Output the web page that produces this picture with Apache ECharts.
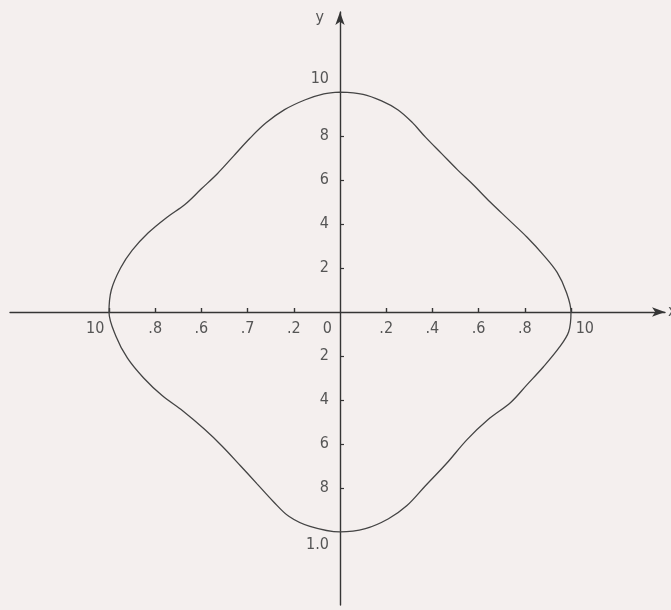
<!DOCTYPE html>
<html>
<head>
<meta charset="utf-8">
<script src="https://cdn.jsdelivr.net/npm/echarts@6/dist/echarts.min.js"></script>
<style>
  html, body { margin: 0; padding: 0; background: #f4efee; }
  #chart { width: 671px; height: 610px; }
</style>
</head>
<body>
<div id="chart"></div>
<script>
// Closed curve, traced clockwise starting at the top (0, 10)
const curveX = [
  0, 0.10, 0.18, 0.25, 0.31, 0.37, 0.44, 0.51, 0.58, 0.65, 0.73, 0.81, 0.88, 0.94, 0.98, 1.0,
  0.99, 0.95, 0.88, 0.81, 0.74, 0.64, 0.55, 0.46, 0.37, 0.29, 0.21, 0.11, 0,
  -0.13, -0.22, -0.29, -0.36, -0.43, -0.51, -0.59, -0.68, -0.77, -0.85, -0.92, -0.97, -1.0,
  -0.99, -0.95, -0.90, -0.83, -0.75, -0.67, -0.60, -0.53, -0.46, -0.39, -0.32, -0.24, -0.15, -0.07, 0
];
const curveY = [
  10.0, 9.9, 9.6, 9.2, 8.65, 7.95, 7.2, 6.45, 5.75, 5.0, 4.2, 3.4, 2.6, 1.8, 0.9, 0,
  -0.9, -1.6, -2.5, -3.3, -4.1, -4.9, -5.8, -6.9, -7.9, -8.8, -9.4, -9.85, -10.0,
  -9.75, -9.3, -8.6, -7.8, -7.0, -6.1, -5.3, -4.5, -3.8, -3.0, -2.1, -1.1, 0,
  1.0, 2.0, 2.8, 3.6, 4.3, 4.9, 5.6, 6.3, 7.1, 7.9, 8.6, 9.2, 9.65, 9.92, 10.0
];

// Axis ticks and their printed labels
const xTicks = [-1.0, -0.8, -0.6, -0.4, -0.2, 0.2, 0.4, 0.6, 0.8, 1.0];
const xLabelValues = [-1.06, -0.8, -0.6, -0.4, -0.2, -0.055, 0.2, 0.4, 0.6, 0.8, 1.06];
const xLabelText = ['10', '.8', '.6', '.7', '.2', '0', '.2', '.4', '.6', '.8', '10'];
const yTicks = [-8, -6, -4, -2, 2, 4, 6, 8];
const yLabelValues = [-10.6, -8, -6, -4, -2, 2, 4, 6, 8, 10.6];
const yLabelText = ['1.0', '8', '6', '4', '2', '2', '4', '6', '8', '10'];

const ink = '#353535';
const labelFont = {
  color: '#555',
  fontFamily: '"Liberation Sans Narrow", "DejaVu Sans Condensed", sans-serif',
  fontSize: 16
};

const GRID = { left: 10, right: 6, top: 12, bottom: 5 };
const W = 671, H = 610;

function lookup(values, texts) {
  return function (v) {
    for (let i = 0; i < values.length; i++) {
      if (Math.abs(values[i] - v) < 1e-6) return texts[i];
    }
    return '';
  };
}

const points = curveX.map((x, i) => [x, curveY[i]]);

const chart = echarts.init(document.getElementById('chart'), null, { renderer: 'canvas' });
chart.setOption({
  backgroundColor: '#f4efee',
  animation: false,
  grid: Object.assign({ outerBoundsMode: 'none', containLabel: false }, GRID),
  xAxis: {
    type: 'value',
    min: -1.4286,
    max: 1.407,
    name: 'x',
    nameLocation: 'end',
    nameGap: 3,
    nameTextStyle: Object.assign({}, labelFont, { padding: [16, 0, 0, 0] }),
    splitLine: { show: false },
    axisLine: {
      onZero: false,
      symbol: ['none', 'arrow'],
      symbolSize: [7, 13],
      lineStyle: { color: ink, width: 1.4 }
    },
    axisTick: {
      show: true,
      inside: true,
      length: 4,
      customValues: xTicks,
      lineStyle: { color: ink, width: 1.4 }
    },
    axisLabel: Object.assign({}, labelFont, {
      customValues: xLabelValues,
      margin: 9,
      formatter: lookup(xLabelValues, xLabelText)
    })
  },
  yAxis: {
    type: 'value',
    min: -13.32,
    max: 13.64,
    name: 'y',
    nameLocation: 'end',
    nameGap: -14,
    nameTextStyle: Object.assign({}, labelFont, { align: 'right', padding: [0, 16, 0, 0] }),
    splitLine: { show: false },
    axisLine: {
      onZero: false,
      symbol: ['none', 'arrow'],
      symbolSize: [7, 13],
      lineStyle: { color: ink, width: 1.4 }
    },
    axisTick: {
      show: true,
      inside: true,
      length: 4,
      customValues: yTicks,
      lineStyle: { color: ink, width: 1.2 }
    },
    axisLabel: Object.assign({}, labelFont, {
      customValues: yLabelValues,
      margin: 11,
      formatter: lookup(yLabelValues, yLabelText)
    })
  },
  series: [{
    type: 'line',
    data: points,
    smooth: 0.35,
    showSymbol: false,
    symbol: 'none',
    lineStyle: { color: '#444', width: 1.3 },
    silent: true
  }]
});

// Move both axes so they cross at the origin, carrying their labels along
const origin = chart.convertToPixel({ gridIndex: 0 }, [0, 0]);
chart.setOption({
  yAxis: { offset: -(origin[0] - GRID.left) },
  xAxis: { offset: -((H - GRID.bottom) - origin[1]) }
});
</script>
</body>
</html>
